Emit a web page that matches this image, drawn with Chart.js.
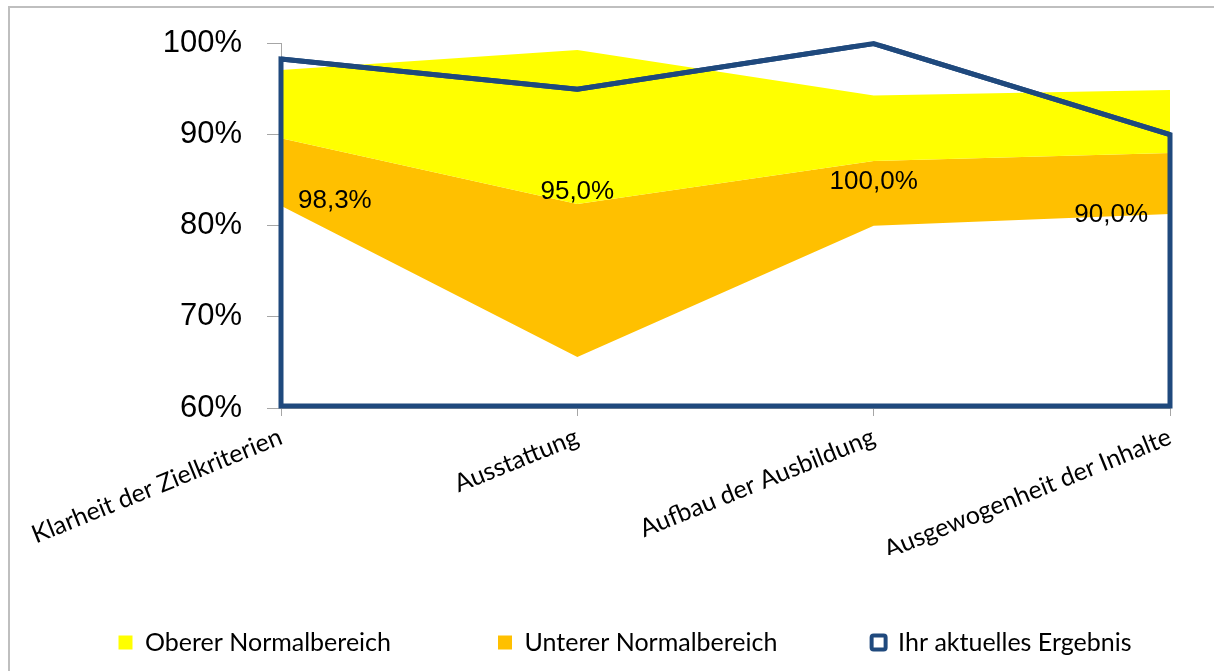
<!DOCTYPE html>
<html>
<head>
<meta charset="utf-8">
<script src="https://cdn.jsdelivr.net/npm/chart.js@4/dist/chart.umd.min.js"></script>
<style>
  html, body { margin: 0; padding: 0; background: #fff; }
  #wrap { position: relative; width: 1214px; height: 671px; }
  #frame { position: absolute; left: 8px; top: 6px; right: -10px; bottom: -10px;
           border-top: 2px solid #BFBFBF; border-left: 2px solid #BFBFBF; }
  canvas { position: absolute; left: 0; top: 0; }
</style>
</head>
<body>
<div id="wrap">
  <div id="frame"></div>
  <canvas id="chart" width="1214" height="671"></canvas>
</div>
<script>
// categories
const categories = ['Klarheit der Zielkriterien', 'Ausstattung', 'Aufbau der Ausbildung', 'Ausgewogenheit der Inhalte'];

// normal range boundaries (in %)
const untererStart = [82.2, 65.6, 80.0, 81.3];   // lower edge of "Unterer Normalbereich"
const untererEnde  = [89.6, 82.4, 87.1, 88.0];   // upper edge of "Unterer" = lower edge of "Oberer"
const obererEnde   = [97.1, 99.3, 94.3, 94.9];   // upper edge of "Oberer Normalbereich"

// current result
const ergebnis = [98.3, 95.0, 100.0, 90.0];
// where the value labels sit (value axis level)
const labelLevel = [82.7, 83.7, 84.8, 81.2];

const yTicks = [60, 70, 80, 90, 100];

const BLUE = '#1F497D';
const YELLOW = '#FFFF00';
const ORANGE = '#FFC000';

function fmt(v) {
    return v.toFixed(1).replace('.', ',') + '%';
}

// draws the closed outline of the result area and the value labels
const ergebnisPlugin = {
    id: 'ergebnisOutline',
    afterDatasetsDraw(chart) {
        const ctx = chart.ctx;
        const area = chart.chartArea;
        const yScale = chart.scales.y;
        const meta = chart.getDatasetMeta(2);
        const pts = meta.data;
        const bottom = yScale.getPixelForValue(yScale.min) - 2;

        ctx.save();
        ctx.strokeStyle = BLUE;
        ctx.lineWidth = 5;
        ctx.lineJoin = 'miter';
        ctx.beginPath();
        ctx.moveTo(pts[0].x, bottom);
        pts.forEach(p => ctx.lineTo(p.x, p.y));
        ctx.lineTo(pts[pts.length - 1].x, bottom);
        ctx.closePath();
        ctx.stroke();

        ctx.font = '26px "Liberation Sans", Arial, sans-serif';
        ctx.fillStyle = '#000';
        ctx.textAlign = 'center';
        ctx.textBaseline = 'middle';
        ergebnis.forEach((v, i) => {
            const txt = fmt(v);
            const w = ctx.measureText(txt).width;
            let x = pts[i].x;
            x = Math.max(x, area.left + w / 2 + 17);
            x = Math.min(x, area.right - w / 2 - 22);
            ctx.fillText(txt, x, yScale.getPixelForValue(labelLevel[i]));
        });
        ctx.restore();
    }
};

const ctx = document.getElementById('chart').getContext('2d');
new Chart(ctx, {
    type: 'line',
    data: {
        labels: categories,
        datasets: [
            {
                label: 'Oberer Normalbereich',
                data: obererEnde,
                fill: 1,
                backgroundColor: YELLOW,
                borderColor: 'transparent',
                borderWidth: 0,
                pointRadius: 0,
                tension: 0,
                order: 2
            },
            {
                label: 'Unterer Normalbereich',
                data: untererEnde,
                fill: 3,
                backgroundColor: ORANGE,
                borderColor: 'transparent',
                borderWidth: 0,
                pointRadius: 0,
                tension: 0,
                order: 2
            },
            {
                label: 'Ihr aktuelles Ergebnis',
                data: ergebnis,
                fill: false,
                backgroundColor: '#FFFFFF',
                borderColor: BLUE,
                borderWidth: 5,
                borderJoinStyle: 'miter',
                pointRadius: 0,
                tension: 0,
                order: 0
            },
            {
                label: 'base',
                data: untererStart,
                fill: false,
                borderColor: 'transparent',
                borderWidth: 0,
                pointRadius: 0,
                order: 3
            }
        ]
    },
    options: {
        responsive: false,
        animation: false,
        events: [],
        layout: { padding: { left: 36, right: 0, top: 37, bottom: 6 } },
        scales: {
            x: {
                offset: false,
                grid: { drawOnChartArea: false, tickLength: 8, color: '#A6A6A6' },
                border: { color: '#A6A6A6', width: 1 },
                ticks: {
                    color: '#000',
                    font: { family: 'Lato', size: 25 },
                    maxRotation: 22,
                    minRotation: 22,
                    padding: 6,
                    autoSkip: false
                },
                afterFit(s) { s.height = 147; }
            },
            y: {
                min: 60,
                max: 100,
                afterBuildTicks(s) { s.ticks = yTicks.map(v => ({ value: v })); },
                grid: { drawOnChartArea: false, tickLength: 14, color: '#A6A6A6' },
                border: { color: '#A6A6A6', width: 1 },
                ticks: {
                    color: '#000',
                    font: { family: '"Liberation Sans", Arial', size: 31 },
                    padding: 25,
                    callback: v => v + '%'
                },
                afterFit(s) { s.width = 245; }
            },
            y2: {
                position: 'right',
                display: true,
                grid: { display: false },
                border: { display: false },
                ticks: { display: false },
                afterFit(s) { s.width = 44; }
            }
        },
        plugins: {
            tooltip: { enabled: false },
            legend: {
                position: 'bottom',
                labels: {
                    color: '#000',
                    font: { family: 'Lato', size: 25 },
                    boxWidth: 14,
                    boxHeight: 14,
                    padding: 75,
                    filter: item => item.datasetIndex !== 3,
                    sort: (a, b) => a.datasetIndex - b.datasetIndex,
                    generateLabels(chart) {
                        const items = Chart.defaults.plugins.legend.labels.generateLabels(chart);
                        items.forEach(it => {
                            if (it.datasetIndex === 2) {
                                it.fillStyle = '#FFFFFF';
                                it.strokeStyle = BLUE;
                                it.lineWidth = 4;
                                it.borderRadius = 2;
                            } else {
                                it.lineWidth = 0;
                                it.strokeStyle = 'transparent';
                                // wider gap to the next entry, like the original
                                it.text = it.text + (it.datasetIndex === 0 ? '     ' : '   ');
                            }
                        });
                        return items;
                    }
                }
            }
        }
    },
    plugins: [ergebnisPlugin]
});
</script>
</body>
</html>
